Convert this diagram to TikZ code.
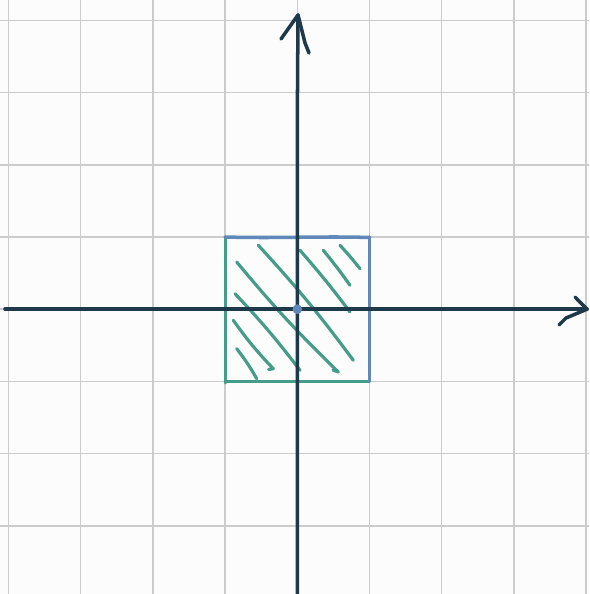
\documentclass[tikz,border=0pt]{standalone}
\begin{document}
\begin{tikzpicture}[x=0.02cm,y=-0.02cm,
  gridline/.style={draw=gridgray,line width=0.8pt},
  axisline/.style={draw=axisnavy,line width=2pt,line cap=round,line join=round},
  hatch/.style={draw=tealgreen,line width=1.8pt,line cap=round,line join=round},
  greenedge/.style={draw=tealgreen,line width=1.7pt,line cap=round},
  blueedge/.style={draw=edgeblue,line width=2pt,line cap=round}]
\definecolor{gridgray}{HTML}{CCCCCC}
\definecolor{axisnavy}{HTML}{1E3A4A}
\definecolor{tealgreen}{HTML}{459C88}
\definecolor{edgeblue}{HTML}{6088B8}
\definecolor{bgwhite}{HTML}{FCFCFC}
\fill[bgwhite] (0,0) rectangle (589,594);
\useasboundingbox (0,0) rectangle (589,594);
% grid
\foreach \gx in {8.5,80.7,152.9,225.1,297.3,369.5,441.7,513.9,586.1}
  \draw[gridline] (\gx,0) -- (\gx,594);
\foreach \gy in {20.4,92.6,164.8,237,309.2,381.4,453.6,525.8}
  \draw[gridline] (0,\gy) -- (589,\gy);
% named points
\coordinate (O) at (297.3,309.2);
\coordinate (xs) at (5,309.2);
\coordinate (xe) at (587,309.2);
\coordinate (ys) at (297.3,594);
\coordinate (ye) at (298,15);
% hatch strokes
\draw[hatch] (258.3,245.3) to[bend left=3] (353.3,360.3);
\draw[hatch] (236.7,262) to[bend right=3] (338.3,372) -- (333,370);
\draw[hatch] (235,293.7) to[bend left=3] (300,370.3);
\draw[hatch] (233.3,320.3) to[bend right=4] (273.3,368.7) -- (268.5,369.5);
\draw[hatch] (236.7,348.7) to[bend left=4] (256.7,378.7);
\draw[hatch] (300,250.3) to[bend left=2] (350,312);
\draw[hatch] (323.3,250.3) to[bend left=2] (350,285.3);
\draw[hatch] (340,245.3) to[bend left=2] (360,268.7);
% square edges
\draw[greenedge] (225.1,237) -- (225.1,383);
\draw[greenedge] (225.1,381.4) -- (369.5,381.4);
\draw[blueedge] (225.1,237) .. controls (280,238.5) and (320,236) .. (369.5,237.5);
\draw[blueedge] (369.5,237) -- (369.5,381.4);
% axes
\draw[axisline] (xs) -- (xe);
\draw[axisline] (575,297) -- (xe) -- (566,318) -- (559,325);
\draw[axisline] (ys) -- (297.3,120) -- (ye);
\draw[axisline] (281,39) -- (ye) -- (305,43) -- (309,53);
% origin dot
\fill[edgeblue] (O) circle (4.8);
\end{tikzpicture}
\end{document}
